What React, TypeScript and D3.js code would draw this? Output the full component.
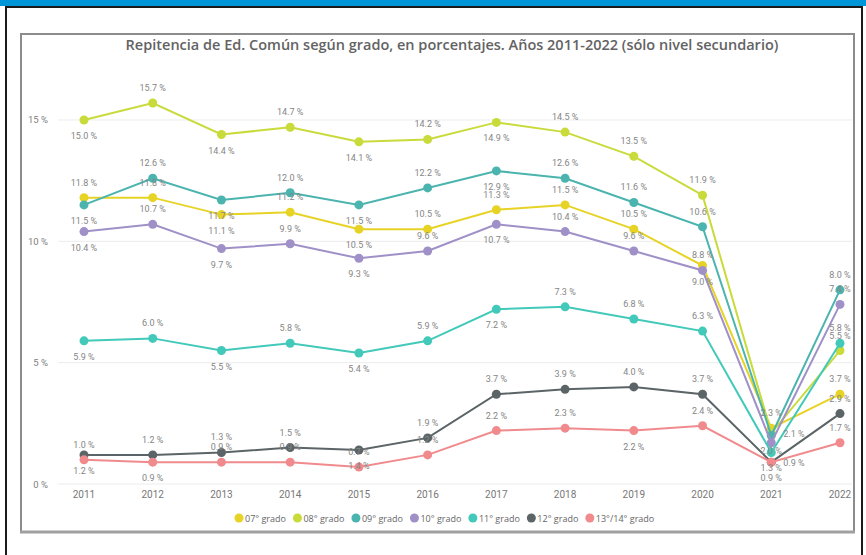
import React, { useMemo } from "react";
import * as d3 from "d3";

const years = [2011, 2012, 2013, 2014, 2015, 2016, 2017, 2018, 2019, 2020, 2021, 2022];
const seriesNames = ["07° grado", "08° grado", "09° grado", "10° grado", "11° grado", "12° grado", "13°/14° grado"];
const g07 = [11.8, 11.8, 11.1, 11.2, 10.5, 10.5, 11.3, 11.5, 10.5, 9.0, 2.3, 3.7];
const g08 = [15.0, 15.7, 14.4, 14.7, 14.1, 14.2, 14.9, 14.5, 13.5, 11.9, 2.1, 5.5];
const g09 = [11.5, 12.6, 11.7, 12.0, 11.5, 12.2, 12.9, 12.6, 11.6, 10.6, 2.0, 8.0];
const g10 = [10.4, 10.7, 9.7, 9.9, 9.3, 9.6, 10.7, 10.4, 9.6, 8.8, 1.7, 7.4];
const g11 = [5.9, 6.0, 5.5, 5.8, 5.4, 5.9, 7.2, 7.3, 6.8, 6.3, 1.3, 5.8];
const g12 = [1.2, 1.2, 1.3, 1.5, 1.4, 1.9, 3.7, 3.9, 4.0, 3.7, 0.9, 2.9];
const g1314 = [1.0, 0.9, 0.9, 0.9, 0.7, 1.2, 2.2, 2.3, 2.2, 2.4, 0.9, 1.7];
const yTicks = [0, 5, 10, 15];

// label placement: a = above, b = below, r = right, n = none
const lab07 = "aababaaaabaa";
const lab08 = "babababaaara";
const lab09 = "babababaaaba";
const lab10 = "babababaaana";
const lab11 = "babababaaaba";
const lab12 = "baaabaaaaara";
const lab1314 = "abaaaaaababa";

const colors = ["#E6D325", "#C8DB3A", "#4BB4AE", "#9F90C7", "#42C9BA", "#5B6466", "#F08A8D"];

const seriesValues = [g07, g08, g09, g10, g11, g12, g1314];
const seriesLabels = [lab07, lab08, lab09, lab10, lab11, lab12, lab1314];

const W = 866;
const H = 555;

export default function App() {
  const x = d3.scalePoint<number>().domain(years).range([84, 840]);
  const y = d3.scaleLinear().domain([0, 16]).range([484, 95.7]);
  const line = d3
    .line<number>()
    .x((_, i) => x(years[i]) as number)
    .y((d) => y(d));

  const legendItems = useMemo(() => {
    const canvas = document.createElement("canvas");
    const ctx = canvas.getContext("2d");
    const font = "9px 'Open Sans'";
    if (ctx) ctx.font = font;
    let cx = 239;
    return seriesNames.map((name, i) => {
      const w = ctx ? ctx.measureText(name).width : name.length * 5;
      const item = { name, cx, color: colors[i] };
      cx += 6 + w + 11.5;
      return item;
    });
  }, []);

  const labelFont = "Roboto, 'DejaVu Sans', sans-serif";

  return (
    <div style={{ position: "absolute", left: 0, top: 0, width: W, height: H, background: "#fff" }}>
      <svg width={W} height={H} viewBox={`0 0 ${W} ${H}`} style={{ display: "block" }}>
        <rect x={0} y={0} width={W} height={H} fill="#ffffff" />
        <rect x={0} y={0} width={W} height={6} fill="#0096D8" />
        <rect x={6} y={7} width={856} height={H + 10} fill="none" stroke="#1a1a1a" strokeWidth={2} />
        <rect x={21} y={34} width={833} height={498} fill="none" stroke="#8c8c8c" strokeWidth={2} />
        <line x1={20} x2={855} y1={532} y2={532} stroke="#a0a0a0" strokeWidth={3} />

        <text
          x={452}
          y={50}
          textAnchor="middle"
          fontFamily="'Open Sans', sans-serif"
          fontWeight={600}
          fontSize={14.5}
          fill="#636363"
        >
          Repitencia de Ed. Común según grado, en porcentajes. Años 2011-2022 (sólo nivel secundario)
        </text>

        {yTicks.map((t) => (
          <g key={t}>
            <line x1={58} x2={852} y1={y(t)} y2={y(t)} stroke="#ececec" strokeWidth={1} />
            <text
              x={48}
              y={y(t) + 3.5}
              textAnchor="end"
              fontFamily={labelFont}
              fontSize={9.5}
              fill="#808080"
            >
              {t} %
            </text>
          </g>
        ))}

        {years.map((yr) => (
          <text
            key={yr}
            x={x(yr)}
            y={498}
            textAnchor="middle"
            fontFamily={labelFont}
            fontSize={10}
            fill="#777"
          >
            {yr}
          </text>
        ))}

        {seriesValues.map((vals, si) => (
          <g key={si}>
            <path d={line(vals) || ""} fill="none" stroke={colors[si]} strokeWidth={2} />
            {vals.map((v, i) => (
              <circle key={i} cx={x(years[i])} cy={y(v)} r={4.5} fill={colors[si]} />
            ))}
          </g>
        ))}

        {seriesValues.map((vals, si) => (
          <g key={"l" + si}>
            {vals.map((v, i) => {
              const mode = seriesLabels[si][i];
              if (mode === "n") return null;
              const px = x(years[i]) as number;
              const py = y(v);
              let tx = px;
              let ty = py - 12;
              let anchor: "middle" | "start" = "middle";
              if (mode === "b") ty = py + 19;
              if (mode === "r") {
                tx = px + 12;
                ty = py + 3.5;
                anchor = "start";
              }
              return (
                <text
                  key={i}
                  x={tx}
                  y={ty}
                  textAnchor={anchor}
                  fontFamily={labelFont}
                  fontSize={9}
                  fill="#858585"
                >
                  {v.toFixed(1)} %
                </text>
              );
            })}
          </g>
        ))}

        {legendItems.map((it) => (
          <g key={it.name}>
            <circle cx={it.cx} cy={518} r={4.5} fill={it.color} />
            <text
              x={it.cx + 6}
              y={521.5}
              fontFamily="'Open Sans', sans-serif"
              fontSize={9}
              fill="#666"
            >
              {it.name}
            </text>
          </g>
        ))}
      </svg>
    </div>
  );
}
